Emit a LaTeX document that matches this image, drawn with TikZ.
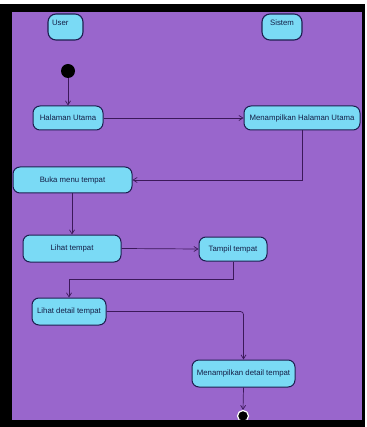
\documentclass[tikz,border=0pt]{standalone}
\usepackage{fontspec}
\setmainfont{Liberation Sans}
\usetikzlibrary{arrows.meta}
\definecolor{bgpurple}{RGB}{153,102,204}
\definecolor{boxfill}{RGB}{122,218,245}
\definecolor{boxline}{RGB}{30,30,80}
\definecolor{flow}{RGB}{60,25,90}
\definecolor{txt}{RGB}{20,30,70}
\tikzset{
  actbox/.style={draw=boxline, line width=1pt, fill=boxfill, rounded corners=7pt,
     inner sep=0pt, text=txt, font=\fontsize{7.8}{8}\selectfont},
  lanebox/.style={actbox, line width=1.1pt, rounded corners=8pt, minimum width=35pt, minimum height=26pt,
     text depth=9pt},
  flowline/.style={draw=flow, line width=0.7pt, -{Straight Barb[length=4pt,width=5pt]}},
}
\begin{document}
\begin{tikzpicture}[x=1pt,y=-1pt]
\useasboundingbox (0,0) rectangle (366,427);
\fill[white] (0,0) rectangle (366,427);
\fill[black] (0,4) rectangle (365,427);
\fill[bgpurple] (12,12) rectangle (362,420);

\node[lanebox, text width=27pt, align=left] (user) at (65.5,27) {User};
\node[lanebox, minimum width=40pt] (sistem) at (282,27) {Sistem};

\node[circle, fill=black, minimum size=14pt, inner sep=0pt] (startn) at (68,71) {};

\node[actbox, minimum width=70pt, minimum height=24pt] (hu) at (68,118) {Halaman Utama};
\node[actbox, minimum width=116pt, minimum height=24pt] (mhu) at (302,118) {Menampilkan Halaman Utama};
\node[actbox, minimum width=119pt, minimum height=26pt] (bmt) at (72.5,180) {Buka menu tempat};
\node[actbox, minimum width=98pt, minimum height=27pt] (lt) at (72,248.5) {Lihat tempat};
\node[actbox, minimum width=68pt, minimum height=24pt] (tt) at (233,249) {Tampil tempat};
\node[actbox, minimum width=74pt, minimum height=27pt] (ldt) at (69,311.5) {Lihat detail tempat};
\node[actbox, minimum width=103pt, minimum height=27pt] (mdt) at (243.5,373.5) {Menampilkan detail tempat};

\node[circle, fill=black, draw=white, line width=1.2pt, minimum size=11pt, inner sep=0pt] (endn) at (243,416) {};

\draw[flowline] (startn.south) -- (hu.north);
\draw[flowline] (hu.east) -- (mhu.west);
\draw[flowline] (mhu.south) |- (bmt.east);
\draw[flowline] (bmt.south -| lt.north) -- (lt.north);
\draw[flowline] (lt.east) -- (tt.west);
\draw[flowline] (tt.south) -- ++(0,18) -| (ldt.north);
\draw[flowline, rounded corners=3pt] (ldt.east) -| (mdt.north);
\draw[flowline] (mdt.south) -- (endn.north);
\fill[black] (0,420) rectangle (365,427);
\end{tikzpicture}
\end{document}
